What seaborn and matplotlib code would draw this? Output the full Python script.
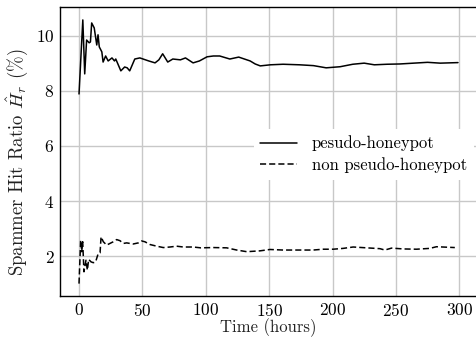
import numpy as np
import pandas as pd
import matplotlib
matplotlib.use("Agg")
import matplotlib.pyplot as plt
import seaborn as sns

# pseudo-honeypot (solid)
hp_t = [0, 3, 4.5, 6, 8, 9, 10, 12, 14, 15, 16, 18, 19, 21, 23, 26, 28, 29, 33, 36, 38, 40,
        44, 48, 55, 60, 63, 66, 70, 74, 80, 84, 90, 95, 101, 106, 111, 119, 126, 135, 139,
        143, 151, 161, 174, 185, 195, 206, 216, 225, 233, 243, 253, 264, 275, 285, 299]
hp_v = [7.89, 10.58, 8.62, 9.85, 9.75, 9.78, 10.47, 10.29, 9.67, 10.04, 9.6, 9.42, 9.05, 9.27,
        9.09, 9.2, 9.09, 9.16, 8.73, 8.87, 8.84, 8.73, 9.16, 9.2, 9.09, 9.02, 9.13, 9.35, 9.05,
        9.16, 9.13, 9.2, 9.02, 9.09, 9.24, 9.27, 9.27, 9.16, 9.23, 9.09, 8.98, 8.91, 8.95, 8.97,
        8.95, 8.92, 8.84, 8.88, 8.97, 9.01, 8.95, 8.97, 8.98, 9.01, 9.04, 9.01, 9.03]

# non pseudo-honeypot (dashed)
nhp_t = [0, 1.3, 2.1, 2.9, 3.9, 5.5, 6.6, 7.6, 9.5, 11.3, 13.1, 15.2, 16.6, 17.4, 19.2, 21.8,
         24.4, 27, 29.7, 32.3, 35, 37.6, 40.2, 42.8, 46.8, 49.4, 52, 56, 61.3, 66.5, 71.8, 77,
         82.3, 90, 96, 106, 116.5, 124.4, 132.3, 142.7, 150.6, 161, 174.3, 184.8, 192.7, 200.6,
         208.4, 216.3, 226.9, 237.4, 241.3, 246.6, 255.8, 266.3, 276.8, 282, 296.5]
nhp_v = [1.0, 2.58, 2.16, 2.52, 1.43, 1.85, 1.49, 1.88, 1.79, 1.76, 1.79, 2.1, 2.12, 2.7, 2.52,
         2.4, 2.46, 2.52, 2.6, 2.56, 2.46, 2.48, 2.46, 2.44, 2.48, 2.55, 2.52, 2.42, 2.36, 2.31,
         2.33, 2.36, 2.33, 2.33, 2.3, 2.31, 2.3, 2.22, 2.16, 2.19, 2.24, 2.22, 2.22, 2.22, 2.25,
         2.25, 2.28, 2.33, 2.3, 2.27, 2.22, 2.29, 2.26, 2.25, 2.28, 2.34, 2.31]

labels = ["pesudo-honeypot", "non pseudo-honeypot"]
x_ticks = [0, 50, 100, 150, 200, 250, 300]
y_ticks = [2, 4, 6, 8, 10]

df = pd.concat([
    pd.DataFrame({"t": hp_t, "v": hp_v, "series": labels[0]}),
    pd.DataFrame({"t": nhp_t, "v": nhp_v, "series": labels[1]}),
])

sns.set_theme(style="whitegrid")
plt.rcParams.update({
    "font.family": "serif",
    "font.serif": ["cmr10", "DejaVu Serif"],
    "mathtext.fontset": "cm",
    "axes.formatter.use_mathtext": True,
    "axes.unicode_minus": False,
    "font.size": 12,
    "axes.edgecolor": "black",
    "axes.linewidth": 1.0,
    "grid.color": "#c8c8c8",
    "grid.linewidth": 1.0,
    "xtick.color": "black",
    "ytick.color": "black",
    "text.color": "black",
    "axes.labelcolor": "#222222",
})

fig = plt.figure(figsize=(4.76, 3.39), dpi=100)
ax = fig.add_axes([60 / 476, 1 - 296 / 339, 417 / 476, 289 / 339])

sns.lineplot(data=df, x="t", y="v", hue="series", style="series",
             palette=["black", "black"], dashes=[(None, None), (4, 2)],
             linewidth=1.1, ax=ax, sort=False, estimator=None)

ax.set_xlim(-15, 314)
ax.set_ylim(0.55, 11.05)
ax.set_xticks(x_ticks)
ax.set_yticks(y_ticks)
ax.tick_params(axis="both", labelsize=12.5, length=0, pad=4)
ax.set_xlabel("Time (hours)", fontsize=12, labelpad=0)
ax.set_ylabel(r"Spammer Hit Ratio $\hat{H}_r$ (%)", fontsize=13.5)
ax.yaxis.set_label_coords(-0.072, 0.464)

leg = ax.legend(loc="center right", bbox_to_anchor=(1.0, 0.49), fontsize=12,
                frameon=True, framealpha=1.0, facecolor="white", edgecolor="none",
                handlelength=2.2, handletextpad=0.9, borderaxespad=0.2,
                labelspacing=0.35)
leg.get_frame().set_linewidth(0)

fig.savefig("out.png", dpi=100)
